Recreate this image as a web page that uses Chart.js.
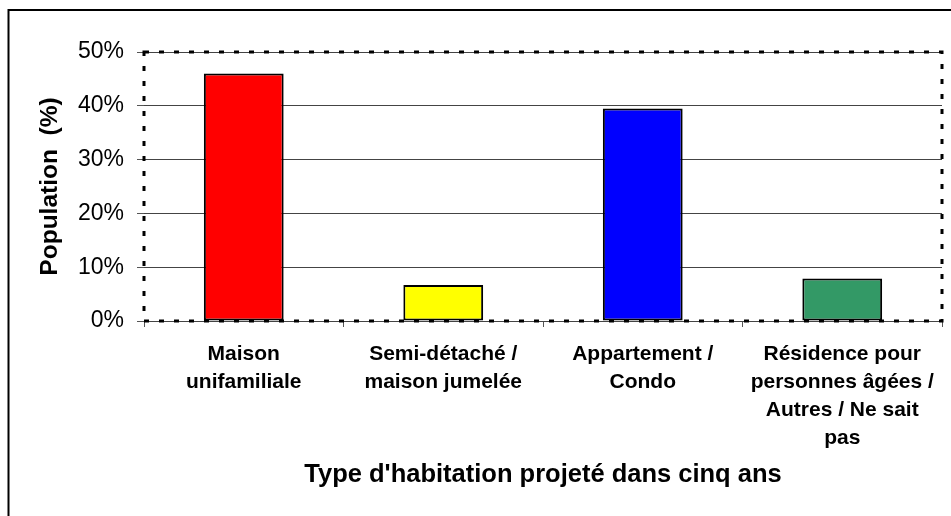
<!DOCTYPE html>
<html>
<head>
<meta charset="utf-8">
<script src="https://cdn.jsdelivr.net/npm/chart.js@4/dist/chart.umd.min.js"></script>
<style>
  html, body { margin: 0; padding: 0; background: #ffffff; }
  #wrap { width: 951px; height: 516px; }
</style>
</head>
<body>
<div id="wrap"><canvas id="c" width="951" height="516"></canvas></div>
<script>
const categories = [
  ["Maison", "unifamiliale"],
  ["Semi-détaché /", "maison jumelée"],
  ["Appartement /", "Condo"],
  ["Résidence pour", "personnes âgées /", "Autres / Ne sait", "pas"]
];
const values = [46.0, 6.7, 39.5, 7.9];
const barColors = ["#FF0000", "#FFFF00", "#0000FF", "#339966"];
const yTicks = [0, 10, 20, 30, 40, 50];
const xTitle = "Type d'habitation projeté dans cinq ans";
const yTitle = "Population  (%)";

const FONT = "'Liberation Sans', Arial, sans-serif";

const framePlugin = {
  id: 'frame',
  beforeDraw(chart) {
    const ctx = chart.ctx;
    ctx.save();
    ctx.fillStyle = '#ffffff';
    ctx.fillRect(0, 0, chart.width, chart.height);
    ctx.strokeStyle = '#000000';
    ctx.lineWidth = 2;
    ctx.beginPath();
    ctx.moveTo(8.5, chart.height + 5);
    ctx.lineTo(8.5, 10);
    ctx.lineTo(chart.width + 5, 10);
    ctx.stroke();
    ctx.restore();
  },
  afterDatasetsDraw(chart) {
    const a = chart.chartArea;
    const ctx = chart.ctx;
    ctx.save();
    ctx.strokeStyle = '#000000';
    ctx.lineWidth = 3;
    ctx.setLineDash([5, 10]);
    ctx.strokeRect(a.left, a.top, a.right - a.left, a.bottom - a.top);
    ctx.restore();
  }
};

new Chart(document.getElementById('c'), {
  type: 'bar',
  data: {
    labels: categories,
    datasets: [{
      data: values,
      backgroundColor: barColors,
      borderColor: '#000000',
      borderWidth: 2,
      borderSkipped: false,
      categoryPercentage: 0.8,
      barPercentage: 0.5
    }]
  },
  options: {
    responsive: false,
    animation: false,
    devicePixelRatio: 1,
    layout: { padding: { top: 52, right: 9, left: 0, bottom: 0 } },
    plugins: {
      legend: { display: false },
      tooltip: { enabled: false },
      title: { display: false }
    },
    scales: {
      x: {
        afterFit(scale) { scale.height = 195; },
        grid: {
          display: true,
          drawOnChartArea: false,
          drawTicks: true,
          tickLength: 6,
          offset: true,
          color: '#555555',
          tickColor: '#555555',
          lineWidth: 1
        },
        border: { display: false },
        ticks: {
          color: '#000000',
          font: { family: FONT, size: 21, weight: 'bold', lineHeight: 1.333 },
          padding: 13,
          maxRotation: 0,
          autoSkip: false
        },
        title: {
          display: true,
          text: xTitle,
          color: '#000000',
          font: { family: FONT, size: 25.5, weight: 'bold', lineHeight: 1.2 },
          padding: { top: 0, bottom: 26 }
        }
      },
      y: {
        min: 0,
        max: 50,
        afterFit(scale) { scale.width = 144; },
        afterBuildTicks(scale) { scale.ticks = yTicks.map(v => ({ value: v })); },
        grid: {
          color: '#444444',
          tickColor: '#555555',
          lineWidth: 1,
          drawTicks: true,
          tickLength: 7
        },
        border: { display: false },
        ticks: {
          color: '#000000',
          font: { family: FONT, size: 23 },
          padding: 13,
          callback: (v) => v + '%'
        },
        title: {
          display: true,
          text: yTitle,
          color: '#000000',
          font: { family: FONT, size: 24.5, weight: 'bold', lineHeight: 1.2 },
          padding: { top: 36, bottom: 0 }
        }
      }
    }
  },
  plugins: [framePlugin]
});
</script>
</body>
</html>
